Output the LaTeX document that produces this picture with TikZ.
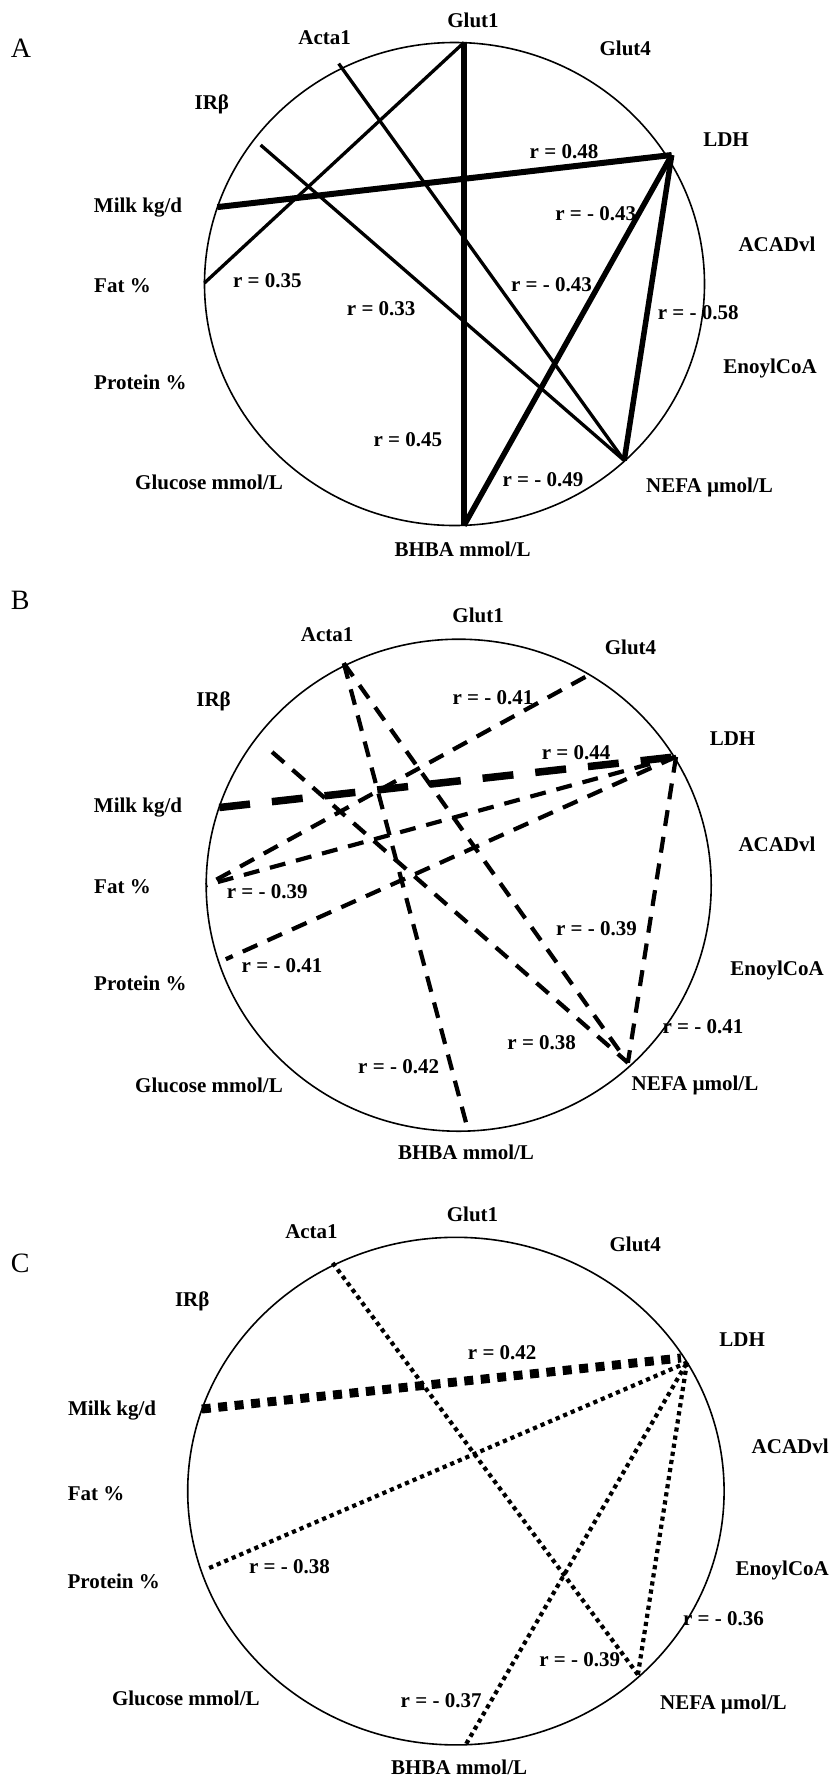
\documentclass[tikz,border=0pt]{standalone}
\usepackage{fontspec}
\setmainfont{Liberation Serif}
\begin{document}
\begin{tikzpicture}[x=1pt,y=-1pt,
  lbl/.style={font=\fontsize{21}{24}\selectfont\bfseries, inner sep=0pt, text height=14pt, text depth=0pt},
  panel/.style={font=\fontsize{28}{30}\selectfont, inner sep=0pt, text height=19pt, text depth=0pt},
  ell/.style={line width=1.6pt},
  solthin/.style={line width=3.3pt},
  solthick/.style={line width=5.5pt},
  solheavy/.style={line width=6.5pt},
  dashthin/.style={line width=4.2pt, dash pattern=on 16pt off 11pt},
  dashthick/.style={line width=7.5pt, dash pattern=on 31pt off 22pt},
  dotthin/.style={line width=4.2pt, dash pattern=on 4.2pt off 4pt},
  dotthick/.style={line width=9pt, dash pattern=on 9pt off 7.5pt}]
\useasboundingbox (0,0) rectangle (837,1778);
\fill[white] (0,0) rectangle (837,1778);

% ================= Panel A =================
\node[panel] (pA) at (21,48) {A};
\draw[ell] (454.5,284) ellipse [x radius=250pt, y radius=241.5pt];
\coordinate (aGlut1) at (464,42.5);
\coordinate (aBHBA) at (464,525.5);
\coordinate (aActa1) at (338.7,63.6);
\coordinate (aIR) at (260.6,145);
\coordinate (aMilk) at (217.3,207.1);
\coordinate (aFat) at (204.4,283);
\coordinate (aLDH) at (671.7,155);
\coordinate (aNEFA) at (624.2,460.5);
\draw[solheavy] (aGlut1) -- (aBHBA);
\draw[line width=6pt] (aMilk) -- (aLDH);
\draw[solthick] (aLDH) -- (aBHBA);
\draw[solthick] (aLDH) -- (aNEFA);
\draw[solthin] (aGlut1) -- (aFat);
\draw[solthin] (aActa1) -- (aNEFA);
\draw[solthin] (aIR) -- (aNEFA);
\node[lbl] (aLGlut1) at (473,20.3) {Glut1};
\node[lbl] (aLActa1) at (324.6,37) {Acta1};
\node[lbl] (aLGlut4) at (625.3,48.8) {Glut4};
\node[lbl] (aLIR) at (211.8,102.5) {IRβ};
\node[lbl] (aLLDH) at (726,139.3) {LDH};
\node[lbl] (aLMilk) at (138,205.4) {Milk kg/d};
\node[lbl] (aLACAD) at (777,244.6) {ACADvl};
\node[lbl] (aLFat) at (122.5,285.7) {Fat \%};
\node[lbl] (aLEnoyl) at (770,366) {EnoylCoA};
\node[lbl] (aLProt) at (140.4,382) {Protein \%};
\node[lbl] (aLGluc) at (209,482) {Glucose mmol/L};
\node[lbl] (aLNEFA) at (709.5,485.7) {NEFA µmol/L};
\node[lbl] (aLBHBA) at (462.6,549.3) {BHBA mmol/L};
\node[lbl] (aR1) at (564,151.7) {r = 0.48};
\node[lbl] (aR2) at (595.7,213.8) {r = - 0.43};
\node[lbl] (aR3) at (267.3,280) {r = 0.35};
\node[lbl] (aR4) at (551.4,284.1) {r = - 0.43};
\node[lbl] (aR5) at (381.2,308.9) {r = 0.33};
\node[lbl] (aR6) at (698.2,312.6) {r = - 0.58};
\node[lbl] (aR7) at (407.8,439.1) {r = 0.45};
\node[lbl] (aR8) at (542.9,479) {r = - 0.49};

% ================= Panel B =================
\node[panel] (pB) at (20.3,600.2) {B};
\draw[ell] (458.7,885.2) ellipse [x radius=252.5pt, y radius=246pt];
\coordinate (bActa1) at (343.8,663.2);
\coordinate (bGlut4) at (585.4,676.9);
\coordinate (bIR) at (272.1,752);
\coordinate (bLDH) at (676,756.8);
\coordinate (bMilk) at (219.2,807.5);
\coordinate (bFat) at (206.2,885.2);
\coordinate (bProt) at (225.8,959.2);
\coordinate (bNEFA) at (627.9,1062.7);
\coordinate (bBHBA) at (467.8,1129.3);
\draw[dashthick] (bMilk) -- (bLDH);
\draw[dashthin] (bLDH) -- (bFat);
\draw[dashthin] (bLDH) -- (bProt);
\draw[dashthin] (bLDH) -- (bNEFA);
\draw[dashthin] (bGlut4) -- (bFat);
\draw[dashthin] (bActa1) -- (bBHBA);
\draw[dashthin] (bActa1) -- (bNEFA);
\draw[dashthin] (bIR) -- (bNEFA);
\node[lbl] (bLGlut1) at (478.1,615.9) {Glut1};
\node[lbl] (bLActa1) at (327.2,634.7) {Acta1};
\node[lbl] (bLGlut4) at (630.5,647.3) {Glut4};
\node[lbl] (bLIR) at (213.6,699.1) {IRβ};
\node[lbl] (bLLDH) at (732.5,738) {LDH};
\node[lbl] (bLMilk) at (138,805) {Milk kg/d};
\node[lbl] (bLACAD) at (777,844) {ACADvl};
\node[lbl] (bLFat) at (122.5,886) {Fat \%};
\node[lbl] (bLEnoyl) at (777,968.7) {EnoylCoA};
\node[lbl] (bLProt) at (140.4,983) {Protein \%};
\node[lbl] (bLGluc) at (209,1085.4) {Glucose mmol/L};
\node[lbl] (bLNEFA) at (695,1083.5) {NEFA µmol/L};
\node[lbl] (bLBHBA) at (466,1152) {BHBA mmol/L};
\node[lbl] (bR1) at (492.9,697.6) {r = - 0.41};
\node[lbl] (bR2) at (576.1,752) {r = 0.44};
\node[lbl] (bR3) at (267.3,891.8) {r = - 0.39};
\node[lbl] (bR4) at (596.5,928.8) {r = - 0.39};
\node[lbl] (bR5) at (282.1,965.8) {r = - 0.41};
\node[lbl] (bR6) at (703,1026) {r = - 0.41};
\node[lbl] (bR7) at (541.7,1042.4) {r = 0.38};
\node[lbl] (bR8) at (398.6,1066.4) {r = - 0.42};

% ================= Panel C =================
\node[panel] (pC) at (20.3,1263.3) {C};
\draw[ell] (455.9,1491.1) ellipse [x radius=268.2pt, y radius=253.8pt];
\coordinate (cActa1) at (332.7,1262.9);
\coordinate (cMilk) at (201.8,1409);
\coordinate (cLDH) at (681,1358);
\coordinate (cLDHb) at (687,1362.5);
\coordinate (cProt) at (209.2,1568);
\coordinate (cNEFA) at (637.9,1674.6);
\coordinate (cBHBA) at (466.3,1743.7);
\draw[dotthick] (cMilk) -- (cLDH);
\draw[dotthin] (cActa1) -- (cNEFA);
\draw[dotthin] (cProt) -- (cLDHb);
\draw[dotthin] (cBHBA) -- (cLDHb);
\draw[dotthin] (cNEFA) -- (cLDHb);
\node[lbl] (cLGlut1) at (472.5,1214.8) {Glut1};
\node[lbl] (cLActa1) at (311.5,1231.2) {Acta1};
\node[lbl] (cLGlut4) at (635.3,1244) {Glut4};
\node[lbl] (cLIR) at (192.2,1299.9) {IRβ};
\node[lbl] (cLLDH) at (742.1,1339.3) {LDH};
\node[lbl] (cLMilk) at (112.1,1408.3) {Milk kg/d};
\node[lbl] (cLACAD) at (790.2,1446.6) {ACADvl};
\node[lbl] (cLFat) at (96.1,1493.1) {Fat \%};
\node[lbl] (cLEnoyl) at (782.2,1568) {EnoylCoA};
\node[lbl] (cLProt) at (113.7,1581.8) {Protein \%};
\node[lbl] (cLGluc) at (185.8,1698) {Glucose mmol/L};
\node[lbl] (cLNEFA) at (723.4,1702) {NEFA µmol/L};
\node[lbl] (cLBHBA) at (459.2,1767.5) {BHBA mmol/L};
\node[lbl] (cR1) at (502.2,1352.8) {r = 0.42};
\node[lbl] (cR2) at (289.5,1566.2) {r = - 0.38};
\node[lbl] (cR3) at (723.4,1618.4) {r = - 0.36};
\node[lbl] (cR4) at (579.8,1659.8) {r = - 0.39};
\node[lbl] (cR5) at (441.1,1700.5) {r = - 0.37};
\end{tikzpicture}
\end{document}
